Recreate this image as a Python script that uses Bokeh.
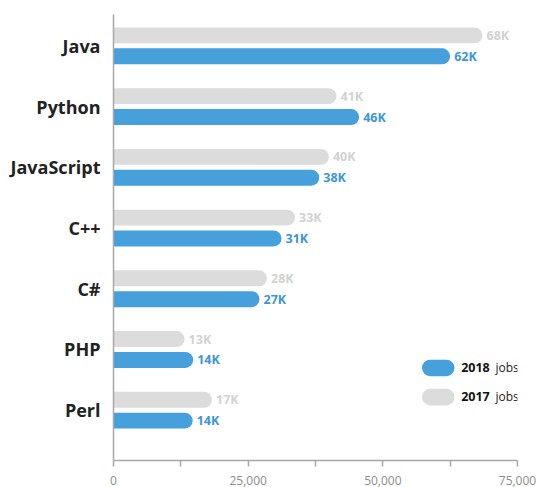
from bokeh.plotting import figure
from bokeh.models import ColumnDataSource, Range1d, FixedTicker, NumeralTickFormatter, BoxAnnotation, Label
from bokeh.core.properties import value
from bokeh.embed import file_html
from bokeh.resources import INLINE

languages = ["Java", "Python", "JavaScript", "C++", "C#", "PHP", "Perl"]
jobs_2018 = [62500, 45600, 38200, 31200, 27100, 14800, 14700]
jobs_2017 = [68500, 41400, 40000, 33700, 28500, 13200, 18300]
labels_2018 = ["62K", "46K", "38K", "31K", "27K", "14K", "14K"]
labels_2017 = ["68K", "41K", "40K", "33K", "28K", "13K", "17K"]
x_ticks = [0, 25000, 50000, 75000]
x_minor_ticks = [12500, 37500, 62500]

BLUE = "#45a0db"
GRAY = "#dcdcdc"
BLUE_TXT = "#3c96d8"
GRAY_TXT = "#d2d2d2"
AXIS = "#a8a8a8"
FONT = "Open Sans"

pos = list(range(len(languages)))
off = 0.172
bar_h = 0.262

src = ColumnDataSource(dict(
    y17=[i - off for i in pos], y18=[i + off for i in pos],
    v17=jobs_2017, v18=jobs_2018, l17=labels_2017, l18=labels_2018,
))

p = figure(width=538, height=487, output_backend="svg", toolbar_location=None,
           x_range=Range1d(0, 75000), y_range=Range1d(6.828, -0.516),
           min_border_left=113, min_border_right=21, min_border_top=14, min_border_bottom=25)
p.outline_line_color = None
p.xgrid.grid_line_color = None
p.ygrid.grid_line_color = None
p.background_fill_color = "white"

p.hbar(y="y17", left=0, right="v17", height=bar_h, fill_color=GRAY, line_color=None,
       border_radius=(0, 8, 8, 0), source=src)
p.hbar(y="y18", left=0, right="v18", height=bar_h, fill_color=BLUE, line_color=None,
       border_radius=(0, 8, 8, 0), source=src)

p.text(x="v17", y="y17", text="l17", x_offset=4, text_baseline="middle", text_align="left",
       text_font=value(FONT), text_font_style="bold", text_font_size="12.5px",
       text_color=GRAY_TXT, source=src)
p.text(x="v18", y="y18", text="l18", x_offset=4, text_baseline="middle", text_align="left",
       text_font=value(FONT), text_font_style="bold", text_font_size="12.5px",
       text_color=BLUE_TXT, source=src)

# x axis
xa = p.xaxis[0]
xa.ticker = FixedTicker(ticks=x_ticks, minor_ticks=x_minor_ticks)
xa.formatter = NumeralTickFormatter(format="0,0")
xa.axis_line_color = AXIS
xa.axis_line_width = 1.5
xa.major_tick_line_color = AXIS
xa.major_tick_line_width = 1.5
xa.minor_tick_line_color = AXIS
xa.minor_tick_line_width = 1.5
xa.major_tick_in = 0
xa.major_tick_out = 6
xa.minor_tick_in = 0
xa.minor_tick_out = 6
xa.major_label_standoff = 9
xa.major_label_text_line_height = 0.7
xa.major_label_text_font = FONT
xa.major_label_text_font_size = "12px"
xa.major_label_text_color = "#8c8c8c"

# y axis
ya = p.yaxis[0]
ya.ticker = FixedTicker(ticks=pos)
ya.major_label_overrides = {i: name for i, name in zip(pos, languages)}
ya.axis_line_color = AXIS
ya.axis_line_width = 1.5
ya.major_tick_line_color = None
ya.minor_tick_line_color = None
ya.major_tick_out = 0
ya.major_tick_in = 0
ya.major_label_standoff = 13
ya.major_label_text_font = FONT
ya.major_label_text_font_style = "bold"
ya.major_label_text_font_size = "18px"
ya.major_label_text_color = "#222222"

# legend (custom pills)
legend_items = [("2018", BLUE, 5.167, 5.439, 5.303), ("2017", GRAY, 5.648, 5.921, 5.779)]
for year, col, top, bottom, ymid in legend_items:
    p.add_layout(BoxAnnotation(left=57286, right=63290, top=top, bottom=bottom,
                               fill_color=col, fill_alpha=1.0, line_color=None,
                               border_radius=8, level="overlay"))
    p.add_layout(Label(x=64535, y=ymid, text=year, text_font=FONT, text_font_style="bold",
                       text_font_size="12.5px", text_baseline="middle", text_color="#111111"))
    p.add_layout(Label(x=70911, y=ymid, text="jobs", text_font=FONT,
                       text_font_size="12px", text_baseline="middle", text_color="#222222"))

open("out.html", "w").write(file_html(p, INLINE))
